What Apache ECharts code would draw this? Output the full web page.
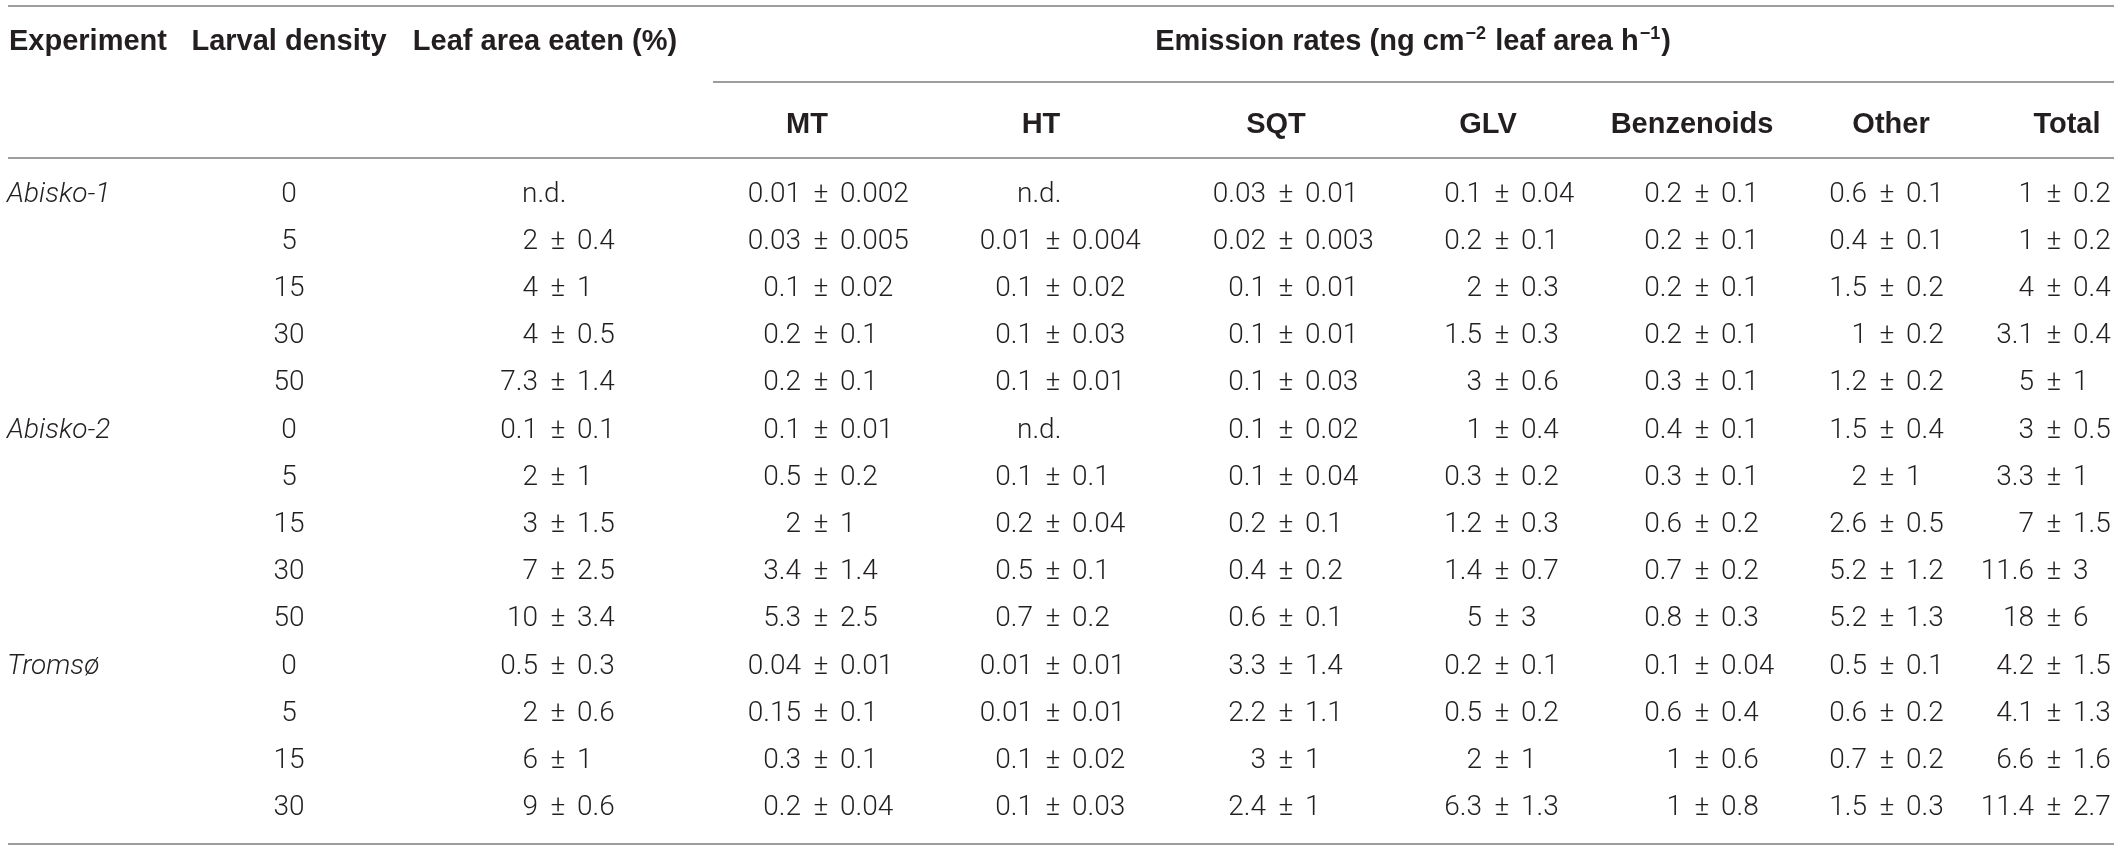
<!DOCTYPE html>
<html>
<head>
<meta charset="utf-8">
<script src="https://cdn.jsdelivr.net/npm/echarts@6/dist/echarts.min.js"></script>
<style>
  html, body { margin: 0; padding: 0; background: #ffffff; }
  #chart { width: 2120px; height: 851px; }
</style>
</head>
<body>
<div id="chart"></div>
<script>
// ---------- data ----------
const experiments = ['Abisko-1', '', '', '', '', 'Abisko-2', '', '', '', '', 'Tromsø', '', '', ''];
const larvalDensity = [0, 5, 15, 30, 50, 0, 5, 15, 30, 50, 0, 5, 15, 30];
const leafAreaEaten = ['n.d.', '2 ± 0.4', '4 ± 1', '4 ± 0.5', '7.3 ± 1.4', '0.1 ± 0.1', '2 ± 1', '3 ± 1.5', '7 ± 2.5', '10 ± 3.4', '0.5 ± 0.3', '2 ± 0.6', '6 ± 1', '9 ± 0.6'];
const MT = ['0.01 ± 0.002', '0.03 ± 0.005', '0.1 ± 0.02', '0.2 ± 0.1', '0.2 ± 0.1', '0.1 ± 0.01', '0.5 ± 0.2', '2 ± 1', '3.4 ± 1.4', '5.3 ± 2.5', '0.04 ± 0.01', '0.15 ± 0.1', '0.3 ± 0.1', '0.2 ± 0.04'];
const HT = ['n.d.', '0.01 ± 0.004', '0.1 ± 0.02', '0.1 ± 0.03', '0.1 ± 0.01', 'n.d.', '0.1 ± 0.1', '0.2 ± 0.04', '0.5 ± 0.1', '0.7 ± 0.2', '0.01 ± 0.01', '0.01 ± 0.01', '0.1 ± 0.02', '0.1 ± 0.03'];
const SQT = ['0.03 ± 0.01', '0.02 ± 0.003', '0.1 ± 0.01', '0.1 ± 0.01', '0.1 ± 0.03', '0.1 ± 0.02', '0.1 ± 0.04', '0.2 ± 0.1', '0.4 ± 0.2', '0.6 ± 0.1', '3.3 ± 1.4', '2.2 ± 1.1', '3 ± 1', '2.4 ± 1'];
const GLV = ['0.1 ± 0.04', '0.2 ± 0.1', '2 ± 0.3', '1.5 ± 0.3', '3 ± 0.6', '1 ± 0.4', '0.3 ± 0.2', '1.2 ± 0.3', '1.4 ± 0.7', '5 ± 3', '0.2 ± 0.1', '0.5 ± 0.2', '2 ± 1', '6.3 ± 1.3'];
const Benzenoids = ['0.2 ± 0.1', '0.2 ± 0.1', '0.2 ± 0.1', '0.2 ± 0.1', '0.3 ± 0.1', '0.4 ± 0.1', '0.3 ± 0.1', '0.6 ± 0.2', '0.7 ± 0.2', '0.8 ± 0.3', '0.1 ± 0.04', '0.6 ± 0.4', '1 ± 0.6', '1 ± 0.8'];
const Other = ['0.6 ± 0.1', '0.4 ± 0.1', '1.5 ± 0.2', '1 ± 0.2', '1.2 ± 0.2', '1.5 ± 0.4', '2 ± 1', '2.6 ± 0.5', '5.2 ± 1.2', '5.2 ± 1.3', '0.5 ± 0.1', '0.6 ± 0.2', '0.7 ± 0.2', '1.5 ± 0.3'];
const Total = ['1 ± 0.2', '1 ± 0.2', '4 ± 0.4', '3.1 ± 0.4', '5 ± 1', '3 ± 0.5', '3.3 ± 1', '7 ± 1.5', '11.6 ± 3', '18 ± 6', '4.2 ± 1.5', '4.1 ± 1.3', '6.6 ± 1.6', '11.4 ± 2.7'];

const headerRow1 = ['Experiment', 'Larval density', 'Leaf area eaten (%)'];
const emissionHeader = ['Emission rates (ng cm', '−2', ' leaf area h', '−1', ')'];
const headerRow2 = ['MT', 'HT', 'SQT', 'GLV', 'Benzenoids', 'Other', 'Total'];

// ---------- layout / style (not data) ----------
const W = 2120, H = 851;
const TEXT = '#231f20';
const RULE = '#7d7d7d';
const HEAD_FONT = 'Liberation Sans, Arial, sans-serif';
const BODY_FONT = 'Roboto, Liberation Sans, sans-serif';
const HEAD_SIZE = 29;
const BODY_SIZE = 28;
// anchor of the ± sign for each value column (x in layout axis units)
const valueColumns = [
  { values: leafAreaEaten, pm: 558 },
  { values: MT, pm: 821 },
  { values: HT, pm: 1053 },
  { values: SQT, pm: 1286 },
  { values: GLV, pm: 1502 },
  { values: Benzenoids, pm: 1702 },
  { values: Other, pm: 1887 },
  { values: Total, pm: 2054 }
];
const header2X = [807, 1041, 1276, 1488, 1692, 1891, 2067];
const expX = 7, densityX = 289;

const rowIdx = larvalDensity.map((_, i) => i);

function bodyText(x, y, text, align, italic) {
  return {
    type: 'text',
    style: {
      x: x, y: y, text: text,
      fill: TEXT,
      fontFamily: BODY_FONT,
      fontSize: BODY_SIZE,
      fontWeight: 300,
      fontStyle: italic ? 'italic' : 'normal',
      align: align,
      verticalAlign: 'middle'
    }
  };
}

function renderRow(params, api) {
  const i = api.value(1);
  const y = api.coord([0, i])[1];
  const X = (v) => api.coord([v, i])[0];
  const children = [];
  if (experiments[i]) children.push(bodyText(X(expX), y, experiments[i], 'left', true));
  children.push(bodyText(X(densityX), y, String(larvalDensity[i]), 'center', false));
  valueColumns.forEach((col) => {
    const s = col.values[i];
    if (s.indexOf('±') < 0) {
      children.push(bodyText(X(col.pm - 36), y, s, 'left', false));
    } else {
      const parts = s.split('±').map((p) => p.trim());
      children.push(bodyText(X(col.pm - 20), y, parts[0], 'right', false));
      children.push(bodyText(X(col.pm), y, '±', 'center', false));
      children.push(bodyText(X(col.pm + 19), y, parts[1], 'left', false));
    }
  });
  return { type: 'group', children: children };
}

function headText(x, y, text, align) {
  return {
    type: 'text',
    style: {
      x: x, y: y, text: text, fill: TEXT,
      fontFamily: HEAD_FONT, fontSize: HEAD_SIZE, fontWeight: 'bold',
      align: align, verticalAlign: 'middle'
    }
  };
}
function rule(x1, x2, y) {
  return { type: 'line', shape: { x1: x1, y1: y, x2: x2, y2: y }, style: { stroke: RULE, lineWidth: 1.6 } };
}

const graphics = [
  rule(8, 2114, 6),
  rule(713, 2114, 82),
  rule(8, 2114, 158),
  rule(8, 2114, 844),
  headText(9, 42, headerRow1[0], 'left'),
  headText(289, 42, headerRow1[1], 'center'),
  headText(545, 42, headerRow1[2], 'center'),
  {
    type: 'text',
    style: {
      x: 1413, y: 42,
      text: '{b|' + emissionHeader[0] + '}{s|' + emissionHeader[1] + '}{b|' + emissionHeader[2] + '}{s|' + emissionHeader[3] + '}{b|' + emissionHeader[4] + '}',
      align: 'center', verticalAlign: 'middle',
      rich: {
        b: { fontFamily: HEAD_FONT, fontSize: HEAD_SIZE, fontWeight: 'bold', fill: TEXT, color: TEXT, lineHeight: 34 },
        s: { fontFamily: HEAD_FONT, fontSize: 18, fontWeight: 'bold', fill: TEXT, color: TEXT, verticalAlign: 'top', lineHeight: 8, padding: [0, 1, 0, 1] }
      }
    }
  }
];
headerRow2.forEach((h, k) => graphics.push(headText(header2X[k], 125, h, 'center')));

const chart = echarts.init(document.getElementById('chart'), null, { renderer: 'canvas' });
chart.setOption({
  backgroundColor: '#ffffff',
  animation: false,
  grid: { left: 0, right: 0, top: 171, bottom: 19.2 },
  xAxis: { type: 'value', min: 0, max: W, show: false },
  yAxis: { type: 'category', data: rowIdx.map(String), inverse: true, show: false, boundaryGap: true },
  graphic: graphics,
  series: [{
    type: 'custom',
    clip: false,
    silent: true,
    renderItem: renderRow,
    encode: { x: 0, y: 1 },
    data: rowIdx.map((i) => [0, i])
  }]
});
</script>
</body>
</html>
